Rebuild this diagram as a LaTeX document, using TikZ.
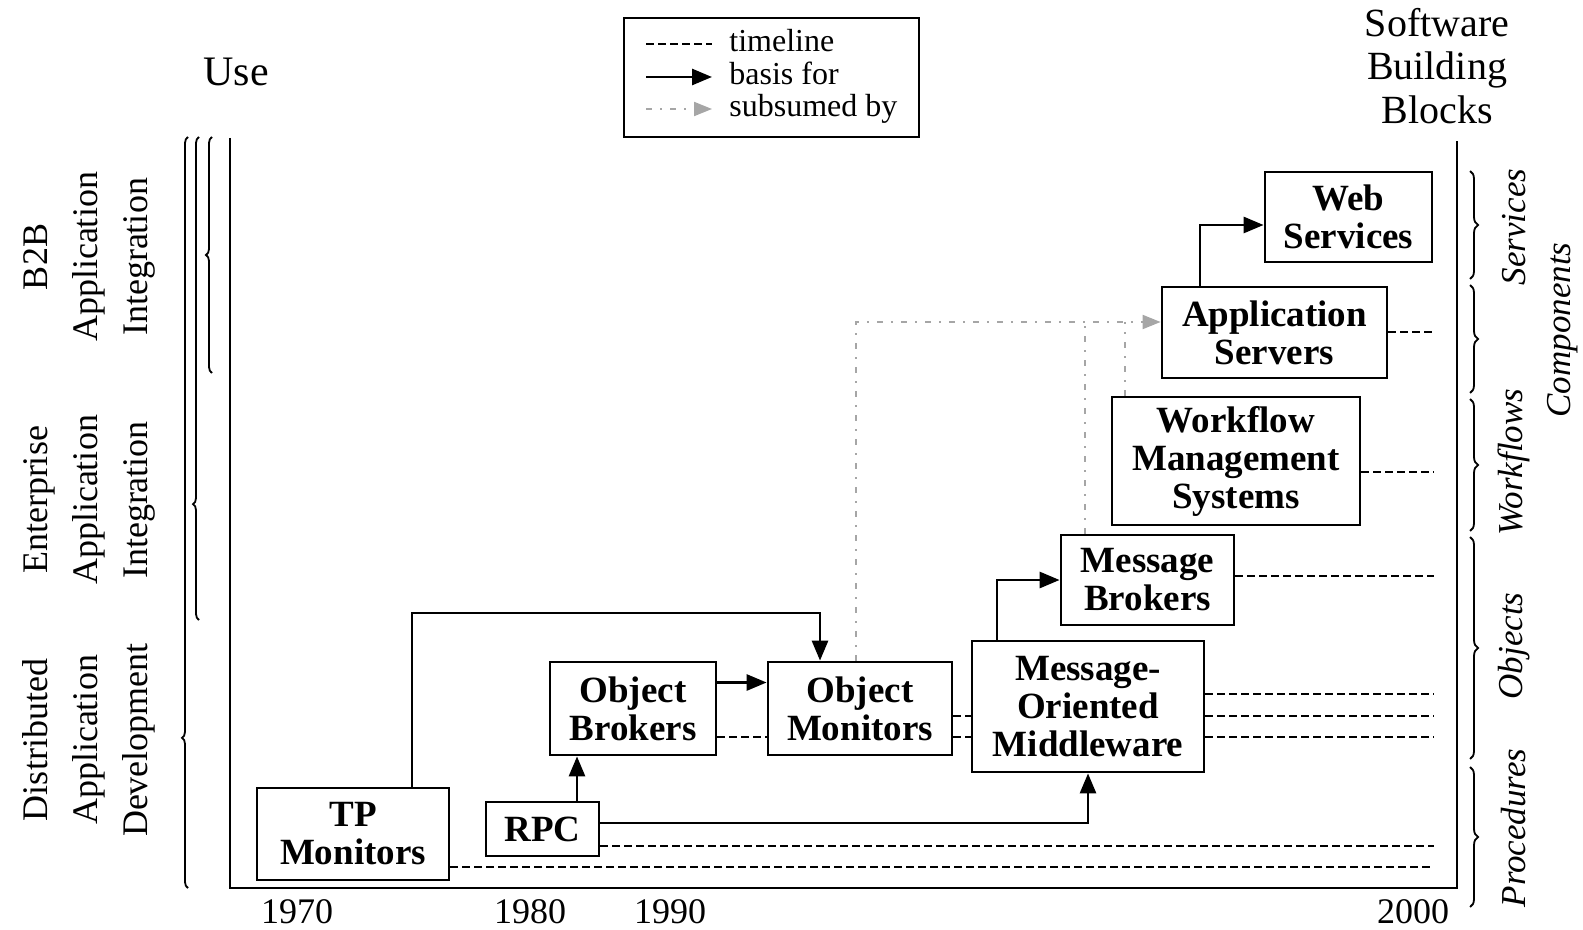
\documentclass[tikz,border=0pt]{standalone}
\usepackage{fontspec}
\setmainfont{Liberation Serif}
\usetikzlibrary{arrows.meta,decorations.pathreplacing}

\begin{document}
\begin{tikzpicture}[
    x=0.5pt, y=-0.5pt,
    block/.style={rectangle, draw, line width=1.4pt, align=center, inner sep=2pt, font=\fontsize{18.5}{19}\selectfont\bfseries},
    basis/.style={-{Triangle[length=10pt, width=8pt]}, line width=1.4pt},
    timeline/.style={dash pattern=on 4pt off 2pt, line width=0.9pt},
    subsumed/.style={gray!70, line width=1pt, dash pattern=on 3pt off 4pt on 1pt off 4pt},
    subarrow/.style={subsumed, -{Triangle[length=9pt, width=7pt]}},
    axis/.style={line width=1.3pt},
    span/.style={decorate, decoration={brace, amplitude=3pt}, line width=0.9pt},
    uselabel/.style={rotate=90, align=center, font=\fontsize{18}{25}\selectfont},
    blocklabel/.style={rotate=90, font=\fontsize{17.5}{20}\selectfont\itshape},
    year/.style={inner sep=0pt, font=\fontsize{18}{20}\selectfont},
    legtext/.style={anchor=west, inner sep=0pt, text height=10.5pt, text depth=3pt, font=\fontsize{16}{18}\selectfont}
  ]
    \useasboundingbox (0,0) rectangle (1583,930);

    \node[font=\fontsize{21}{22}\selectfont] (use) at (236,72) {Use};
    \node[align=center, font=\fontsize{20}{21.75}\selectfont] (sbb) at (1437,66) {Software\\Building\\Blocks};

    \node[draw, line width=1.3pt, minimum width=147.5pt, minimum height=59.5pt] (legend) at (771.5,77.5) {};
    \node[legtext] (lgTime) at (729,44) {timeline};
    \node[legtext] (lgBasis) at (729,77) {basis for};
    \node[legtext] (lgSub) at (729,109) {subsumed by};
    \coordinate (xLegA) at (646,0);
    \coordinate (xLegB) at (712,0);
    \draw[timeline] (lgTime.west -| xLegA) -- (lgTime.west -| xLegB);
    \draw[basis] (lgBasis.west -| xLegA) -- (lgBasis.west -| xLegB);
    \draw[subarrow] (lgSub.west -| xLegA) -- (lgSub.west -| xLegB);

    \coordinate (origin) at (230,888);
    \coordinate (topL) at (230,138);
    \coordinate (topR) at (1457,141);
    \coordinate (cornerR) at (1457,888);
    \draw[axis] (topL) -- (origin) -- (cornerR) -- (topR);

    \node[year] (y1970) at (297,912) {1970};
    \node[year] (y1980) at (530,912) {1980};
    \node[year] (y1990) at (670,912) {1990};
    \node[year] (y2000) at (1413,912) {2000};

    \draw[span, decoration={aspect=0.2}] (188,888) -- (188,137);
    \draw[span, decoration={aspect=0.24}] (199,620) -- (199,137);
    \draw[span, decoration={aspect=0.5}] (212,373) -- (212,137);
    \node[uselabel] (dad) at (89,740) {Distributed\\Application\\Development};
    \node[uselabel] (eai) at (89,500) {Enterprise\\Application\\Integration};
    \node[uselabel] (b2b) at (89,257) {B2B\\Application\\Integration};

    \draw[span, decoration={amplitude=4pt}] (1470,171) -- (1470,279);
    \draw[span, decoration={amplitude=4pt}] (1470,285) -- (1470,393);
    \draw[span, decoration={amplitude=4pt}] (1470,399) -- (1470,531);
    \draw[span, decoration={amplitude=4pt}] (1470,537) -- (1470,759);
    \draw[span, decoration={amplitude=4pt}] (1470,767) -- (1470,907);
    \node[blocklabel] (lbServ) at (1514,227) {Services};
    \node[blocklabel] (lbComp) at (1563,330) {Components};
    \node[blocklabel] (lbWork) at (1514,462) {Workflows};
    \node[blocklabel] (lbObj) at (1514,646) {Objects};
    \node[blocklabel] (lbProc) at (1514,828) {Procedures};

    \node[block, minimum width=96pt, minimum height=46pt] (tpMon) at (353,834) {TP\\Monitors};
    \node[block, minimum width=56.5pt, minimum height=27pt] (rpc) at (542.5,829) {RPC};
    \node[block, minimum width=83pt, minimum height=46.5pt] (objBrk) at (633,708.5) {Object\\Brokers};
    \node[block, minimum width=92pt, minimum height=46.5pt] (objMon) at (860,708.5) {Object\\Monitors};
    \node[block, minimum width=116pt, minimum height=65.5pt] (mom) at (1088,706.5) {Message-\\Oriented\\Middleware};
    \node[block, minimum width=86.5pt, minimum height=45pt] (msgBrk) at (1147.5,580) {Message\\Brokers};
    \node[block, minimum width=124pt, minimum height=64pt] (wfms) at (1236,461) {Workflow\\Management\\Systems};
    \node[block, minimum width=112.5pt, minimum height=45.5pt] (appSrv) at (1274.5,332.5) {Application\\Servers};
    \node[block, minimum width=83.5pt, minimum height=45pt] (webSrv) at (1348.5,217) {Web\\Services};

    \coordinate (rim) at (1434,0);
    \coordinate (yTP) at (0,867);
    \coordinate (yRPC) at (0,846);
    \coordinate (yOB) at (0,737);
    \coordinate (yOM) at (0,716);
    \coordinate (yMOM) at (0,694);
    \coordinate (yMB) at (0,576);
    \coordinate (yWF) at (0,472);
    \coordinate (yAS) at (0,332);
    \draw[timeline] (tpMon.east |- yTP) -- (rim |- yTP);
    \draw[timeline] (rpc.east |- yRPC) -- (rim |- yRPC);
    \draw[timeline] (objBrk.east |- yOB) -- (objMon.west |- yOB)
                    (objMon.east |- yOB) -- (mom.west |- yOB)
                    (mom.east |- yOB) -- (rim |- yOB);
    \draw[timeline] (objMon.east |- yOM) -- (mom.west |- yOM)
                    (mom.east |- yOM) -- (rim |- yOM);
    \draw[timeline] (mom.east |- yMOM) -- (rim |- yMOM);
    \draw[timeline] (msgBrk.east |- yMB) -- (rim |- yMB);
    \draw[timeline] (wfms.east |- yWF) -- (rim |- yWF);
    \draw[timeline] (appSrv.east |- yAS) -- (rim |- yAS);

    \coordinate (xTp) at (412,0);
    \coordinate (xOm) at (820,0);
    \coordinate (yTurn) at (0,613);
    \coordinate (xRpc) at (577,0);
    \coordinate (yRpcArr) at (0,823);
    \coordinate (yObArr) at (0,682.5);
    \coordinate (xMom) at (997,0);
    \coordinate (xAs) at (1200,0);
    \coordinate (yWs) at (0,225);
    \draw[basis] (tpMon.north -| xTp) |- (yTurn -| xOm) -- (objMon.north -| xOm);
    \draw[basis] (rpc.north -| xRpc) -- (objBrk.south -| xRpc);
    \draw[basis] (rpc.east |- yRpcArr) -| (mom.south);
    \draw[basis] (objBrk.east |- yObArr) -- (objMon.west |- yObArr);
    \draw[basis] (mom.north -| xMom) |- (msgBrk.west);
    \draw[basis] (appSrv.north -| xAs) |- (webSrv.west |- yWs);

    \coordinate (ySub) at (0,322);
    \coordinate (xSubA) at (856,0);
    \coordinate (xSubB) at (1085,0);
    \coordinate (xSubC) at (1125,0);
    \draw[subarrow] (objMon.north -| xSubA) |- (appSrv.west |- ySub);
    \draw[subsumed] (msgBrk.north -| xSubB) -- (ySub -| xSubB);
    \draw[subsumed] (wfms.north -| xSubC) -- (ySub -| xSubC);
  \end{tikzpicture}
\end{document}
